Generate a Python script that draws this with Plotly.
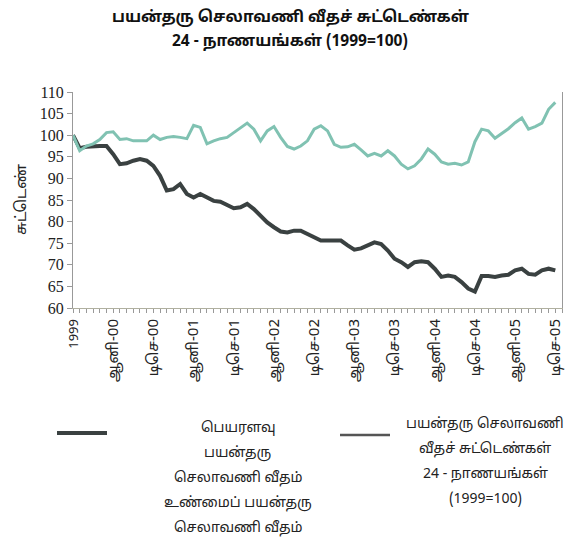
import plotly.graph_objects as go

# ---------------- data ----------------
periods = list(range(73))  # 0 = 1999 base, 1..72 = Jan-2000 .. Dec-2005
tick_positions = [0, 6, 12, 18, 24, 30, 36, 42, 48, 54, 60, 66, 72]
tick_labels = ["1999", "ஆனி-00", "டிசெ-00", "ஆனி-01", "டிசெ-01", "ஆனி-02",
               "டிசெ-02", "ஆனி-03", "டிசெ-03", "ஆனி-04", "டிசெ-04", "ஆனி-05", "டிசெ-05"]

nominal_eer = [100, 97, 97.3, 97.5, 97.5, 97.5, 95.6, 93.3, 93.5, 94.1,
               94.5, 94.1, 92.9, 90.6, 87.2, 87.5, 88.7, 86.4, 85.6, 86.4,
               85.6, 84.8, 84.6, 83.8, 83.1, 83.3, 84.1, 82.9, 81.4, 79.8,
               78.7, 77.7, 77.5, 77.9, 77.9, 77.2, 76.4, 75.6, 75.6, 75.6,
               75.6, 74.5, 73.5, 73.8, 74.6, 75.2, 74.8, 73.3, 71.4, 70.6,
               69.5, 70.6, 70.8, 70.6, 69.1, 67.2, 67.5, 67.2, 66.0, 64.5,
               63.8, 67.4, 67.4, 67.2, 67.5, 67.7, 68.7, 69.1, 67.9, 67.7,
               68.7, 69.1, 68.7]

real_eer = [100, 96.4, 97.5, 98, 99, 100.6, 100.8, 99, 99.2, 98.7,
            98.7, 98.7, 100, 99, 99.5, 99.7, 99.5, 99.2, 102.3, 101.8,
            98, 98.7, 99.2, 99.5, 100.6, 101.8, 102.8, 101.4, 98.7, 101,
            102, 99.5, 97.4, 96.8, 97.5, 98.7, 101.4, 102.2, 101, 97.9,
            97.2, 97.3, 97.9, 96.6, 95.2, 95.8, 95.2, 96.4, 95.2, 93.3,
            92.2, 92.9, 94.5, 96.8, 95.6, 93.8, 93.3, 93.5, 93.1, 93.8,
            98.5, 101.4, 101, 99.3, 100.3, 101.5, 102.9, 104, 101.4, 102,
            102.8, 106, 107.6]

title_lines = ["பயன்தரு செலாவணி வீதச் சுட்டெண்கள்", "24 - நாணயங்கள் (1999=100)"]
y_title = "சுட்டெண்"
legend1_lines = ["பெயரளவு", "பயன்தரு", "செலாவணி வீதம்", "உண்மைப் பயன்தரு", "செலாவணி வீதம்"]
legend2_lines = ["பயன்தரு செலாவணி", "வீதச் சுட்டெண்கள்", "24 - நாணயங்கள்", "(1999=100)"]

DARK = "#3a4141"
TEAL = "#80c2b2"
FONT = "Noto Sans Tamil, Lohit Tamil, Latha, Arial, Liberation Sans, sans-serif"

W, H = 572, 537
L, R, T, B = 73, 10, 92, 229

def px(x):
    return (x - L) / (W - L - R)

def py(y):
    return 1 - (y - T) / (H - T - B)

tick_text = [('<span style="font-size:13px">' + t + '</span>') if t == "1999" else t
             for t in tick_labels]

fig = go.Figure()
fig.add_trace(go.Scatter(x=periods, y=nominal_eer, mode="lines",
                         line=dict(color=DARK, width=4), showlegend=False))
fig.add_trace(go.Scatter(x=periods, y=real_eer, mode="lines",
                         line=dict(color=TEAL, width=3), showlegend=False))

annotations = []
for i, t in enumerate(title_lines):
    annotations.append(dict(text="<b>" + t + "</b>", x=px(290), y=py(18 + 24 * i),
                            xref="paper", yref="paper", showarrow=False,
                            xanchor="center", yanchor="middle",
                            font=dict(size=15.5, color="#111", family=FONT)))
annotations.append(dict(text=y_title, x=px(22), y=py(200), xref="paper", yref="paper",
                        showarrow=False, textangle=-90, xanchor="center", yanchor="middle",
                        font=dict(size=15, color="#222", family=FONT)))
for i, t in enumerate(legend1_lines):
    annotations.append(dict(text=t, x=px(238), y=py(428 + 25 * i), xref="paper", yref="paper",
                            showarrow=False, xanchor="center", yanchor="middle",
                            font=dict(size=14, color="#222", family=FONT)))
for i, t in enumerate(legend2_lines):
    annotations.append(dict(text=t, x=px(485), y=py(424 + 25 * i), xref="paper", yref="paper",
                            showarrow=False, xanchor="center", yanchor="middle",
                            font=dict(size=14, color="#222", family=FONT)))

shapes = [
    dict(type="line", xref="paper", yref="paper", x0=px(57), x1=px(107), y0=py(433), y1=py(433),
         line=dict(color=DARK, width=4)),
    dict(type="line", xref="paper", yref="paper", x0=px(340), x1=px(390), y0=py(435), y1=py(435),
         line=dict(color="#555", width=2.5)),
]

fig.update_layout(
    width=W, height=H,
    margin=dict(l=L, r=R, t=T, b=B, autoexpand=False),
    paper_bgcolor="white", plot_bgcolor="white",
    annotations=annotations, shapes=shapes,
    showlegend=False,
    xaxis=dict(range=[0, 73], tickmode="array", tickvals=tick_positions, ticktext=tick_text,
               tickangle=-90, ticks="outside", ticklen=4, tickcolor="#999", automargin=False,
               showline=True, linecolor="#b0b0a0", linewidth=1, showgrid=False, zeroline=False,
               tickfont=dict(size=15, color="#222", family=FONT),
               minor=dict(dtick=1, tick0=0, ticks="outside", ticklen=4, tickcolor="#999", showgrid=False)),
    yaxis=dict(range=[60, 110], dtick=5, tick0=60, ticks="outside", ticklen=5, tickcolor="#999",
               automargin=False,
               showline=True, linecolor="#999", linewidth=1, mirror=True, showgrid=False, zeroline=False,
               tickfont=dict(size=16, color="#222", family="Liberation Serif, Times New Roman, serif")),
)

fig.write_html("out.html", config={"displayModeBar": False},
               post_script="document.body.style.margin='0';document.body.style.overflow='hidden';")
